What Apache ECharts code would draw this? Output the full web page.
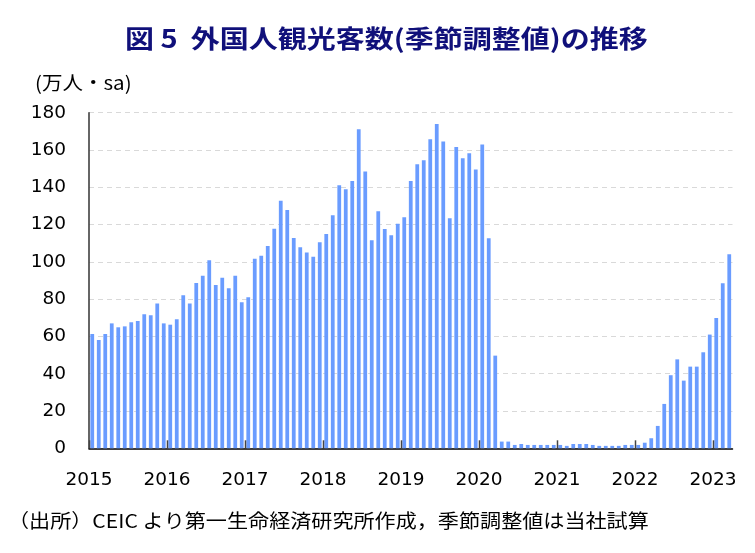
<!DOCTYPE html>
<html>
<head>
<meta charset="utf-8">
<script src="https://cdn.jsdelivr.net/npm/echarts@6/dist/echarts.min.js"></script>
<style>html,body{margin:0;padding:0;background:#fff}#c{width:755px;height:553px}</style>
</head>
<body>
<div id="c"></div>
<script>
// Monthly, Jan 2015 - Mar 2023 (万人, seasonally adjusted)
const startYear = 2015;
const values = [
  61.3, 58.1, 61.3, 67.0, 64.9, 65.4, 67.6, 68.3, 71.9, 71.3, 77.6, 67.0,
  66.3, 69.2, 82.1, 77.6, 88.7, 92.6, 100.8, 87.6, 91.5, 85.8, 92.6, 78.3,
  81.0, 101.6, 103.3, 108.5, 117.8, 132.8, 127.8, 112.8, 107.8, 105.0, 102.8, 110.5,
  115.0, 125.0, 141.1, 138.9, 143.4, 171.1, 148.4, 111.6, 127.1, 117.6, 114.3, 120.5,
  123.9, 143.4, 152.3, 154.5, 165.7, 174.0, 164.5, 123.4, 161.6, 155.6, 158.2, 149.5,
  162.9, 112.6, 49.7, 3.6, 3.6, 1.8, 2.3, 1.8, 1.8, 1.8, 1.8, 1.8,
  1.8, 1.3, 2.3, 2.3, 2.3, 1.8, 1.3, 1.3, 1.3, 1.3, 1.8, 1.8,
  1.8, 3.0, 5.4, 12.0, 23.8, 39.2, 47.7, 36.3, 43.8, 43.8, 51.5, 61.0,
  69.9, 88.5, 104.1
];
const categories = values.map((v, i) => (startYear + Math.floor(i / 12)) + '/' + String(i % 12 + 1).padStart(2, '0'));
const yearLabels = ['2015', '2016', '2017', '2018', '2019', '2020', '2021', '2022', '2023'];
const yTicks = [0, 20, 40, 60, 80, 100, 120, 140, 160, 180];

const titleText = '図 5  外国人観光客数(季節調整値)の推移';
const unitText = '(万人・sa)';
const sourceText = '（出所）CEIC より第一生命経済研究所作成，季節調整値は当社試算';

// year-boundary tick positions (index of each January)
const yearStarts = yearLabels.map((y, k) => [k * 12, 0]);

const chart = echarts.init(document.getElementById('c'), null, {renderer: 'canvas'});
chart.setOption({
  animation: false,
  graphic: [
    {type: 'text', x: 125, y: 38, scaleX: 1.16,
     style: {text: titleText, font: 'bold 25px "Noto Sans CJK JP"', fill: '#10107a', textVerticalAlign: 'middle'}},
    {type: 'text', x: 35, y: 83, scaleX: 1.08,
     style: {text: unitText, font: '19px "Noto Sans CJK JP"', fill: '#000', textVerticalAlign: 'middle'}},
    {type: 'text', x: 8, y: 521, scaleX: 1.11,
     style: {text: sourceText, font: '19px "Noto Sans CJK JP"', fill: '#000', textVerticalAlign: 'middle'}}
  ],
  grid: {left: 89, right: 22.5, top: 112.7, bottom: 104.7, containLabel: false},
  xAxis: {
    type: 'category', data: categories, boundaryGap: true,
    axisLine: {lineStyle: {color: '#000', width: 1.5}},
    axisTick: {show: false},
    axisLabel: {
      interval: (i) => i % 12 === 0, formatter: (v) => v.slice(0, 4),
      fontFamily: '"DejaVu Sans"', fontSize: 18.5, color: '#000', margin: 22, padding: [0, 6.5, 0, 0]
    },
    splitLine: {show: false}
  },
  yAxis: {
    type: 'value', min: yTicks[0], max: yTicks[yTicks.length - 1], interval: 20,
    axisLine: {show: true, lineStyle: {color: '#333', width: 1.5}},
    axisTick: {show: false},
    axisLabel: {fontFamily: '"DejaVu Sans"', fontSize: 18.5, color: '#000', margin: 23},
    splitLine: {show: true, lineStyle: {color: '#d9d9d9', type: [5, 4], width: 1}}
  },
  series: [{
    type: 'bar', data: values, barWidth: '58%',
    itemStyle: {color: '#6a9cff'}
  }, {
    type: 'custom', data: yearStarts, clip: false, z: 5,
    renderItem: (params, api) => {
      const p = api.coord([api.value(0), api.value(1)]);
      const half = api.size([1, 0])[0] / 2;
      const x = Math.round(p[0] - half) + 0.5;
      return {type: 'line', shape: {x1: x, y1: p[1], x2: x, y2: p[1] - 8},
              style: {stroke: '#444', lineWidth: 1.5}};
    }
  }]
});
</script>
</body>
</html>
